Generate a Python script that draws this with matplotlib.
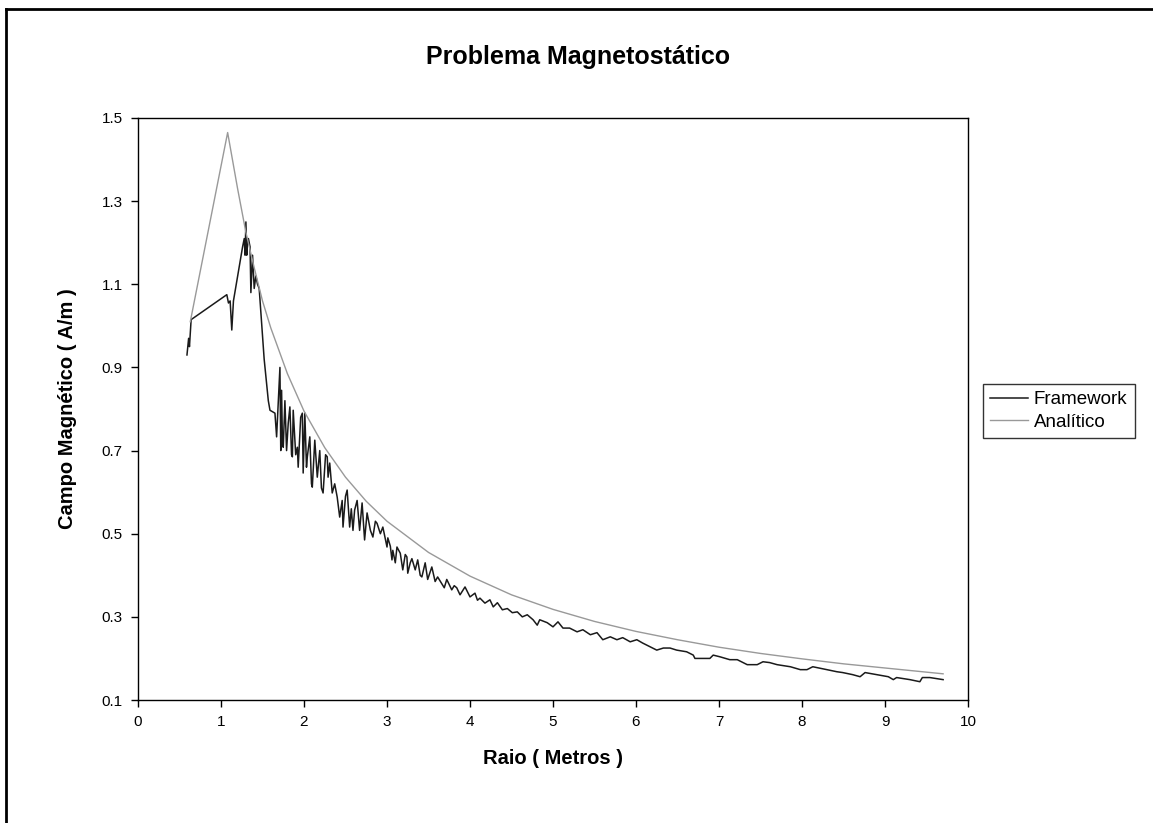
import matplotlib
matplotlib.use("Agg")
import matplotlib.pyplot as plt
from matplotlib.lines import Line2D

plt.rcParams['font.family'] = ['Liberation Sans', 'DejaVu Sans']

# analitico
r_ana = [0.63, 1.08, 1.2, 1.3, 1.4, 1.5, 1.6, 1.8, 2.0, 2.25, 2.5, 2.75, 3.0, 3.5, 4.0, 4.5,
         5.0, 5.5, 6.0, 6.5, 7.0, 7.5, 8.0, 8.5, 9.0, 9.5, 9.7]
h_ana = [1.01, 1.465, 1.33, 1.225, 1.14, 1.06, 0.995, 0.885, 0.795, 0.707, 0.636, 0.578, 0.53,
         0.455, 0.398, 0.353, 0.318, 0.289, 0.265, 0.245, 0.227, 0.212, 0.199, 0.187, 0.177,
         0.167, 0.163]

# framework
r_fw = [0.59, 0.61, 0.62, 0.64, 1.07, 1.09, 1.11, 1.13, 1.15, 1.26, 1.28, 1.29, 1.30, 1.31,
        1.32, 1.33, 1.35, 1.36, 1.38, 1.40, 1.42, 1.44, 1.46, 1.52, 1.57, 1.59, 1.65, 1.67,
        1.71, 1.72, 1.73, 1.74, 1.75, 1.77, 1.79, 1.81, 1.83, 1.85, 1.86, 1.87, 1.90, 1.92,
        1.93, 1.96, 1.98, 1.99, 2.01, 2.03, 2.04, 2.07, 2.09, 2.10, 2.13, 2.16, 2.19, 2.21,
        2.23, 2.26, 2.28, 2.29, 2.31, 2.34, 2.37, 2.40, 2.43, 2.46, 2.47, 2.50, 2.52, 2.55,
        2.57, 2.59, 2.61, 2.64, 2.67, 2.70, 2.73, 2.76, 2.80, 2.83, 2.86, 2.88, 2.92, 2.95,
        3.00, 3.01, 3.04, 3.06, 3.07, 3.10, 3.12, 3.16, 3.19, 3.22, 3.24, 3.25, 3.28, 3.30,
        3.34, 3.37, 3.40, 3.42, 3.46, 3.49, 3.54, 3.58, 3.61, 3.66, 3.69, 3.72, 3.78, 3.81,
        3.84, 3.88, 3.94, 3.97, 4.00, 4.06, 4.09, 4.12, 4.18, 4.24, 4.28, 4.33, 4.39, 4.45,
        4.51, 4.57, 4.63, 4.69, 4.76, 4.81, 4.84, 4.93, 5.00, 5.06, 5.12, 5.20, 5.29, 5.36,
        5.45, 5.53, 5.60, 5.69, 5.77, 5.84, 5.93, 6.01, 6.08, 6.17, 6.25, 6.33, 6.41, 6.49,
        6.61, 6.69, 6.71, 6.89, 6.93, 7.01, 7.13, 7.22, 7.34, 7.46, 7.53, 7.61, 7.70, 7.86,
        7.98, 8.06, 8.13, 8.18, 8.30, 8.42, 8.49, 8.61, 8.70, 8.76, 8.90, 9.04, 9.10, 9.14,
        9.30, 9.42, 9.45, 9.54, 9.70]
h_fw = [0.93, 0.97, 0.95, 1.015, 1.075, 1.055, 1.06, 0.99, 1.06, 1.19, 1.21, 1.17, 1.25, 1.17,
        1.20, 1.21, 1.19, 1.08, 1.17, 1.09, 1.12, 1.10, 1.09, 0.92, 0.82, 0.797, 0.79, 0.733,
        0.90, 0.70, 0.845, 0.72, 0.708, 0.82, 0.70, 0.766, 0.805, 0.69, 0.685, 0.797, 0.69,
        0.708, 0.66, 0.78, 0.79, 0.646, 0.79, 0.66, 0.685, 0.733, 0.62, 0.612, 0.725, 0.636,
        0.70, 0.61, 0.598, 0.69, 0.685, 0.636, 0.67, 0.598, 0.62, 0.588, 0.54, 0.58, 0.516,
        0.59, 0.605, 0.516, 0.56, 0.508, 0.557, 0.58, 0.508, 0.574, 0.485, 0.55, 0.508, 0.492,
        0.53, 0.525, 0.50, 0.516, 0.468, 0.49, 0.47, 0.437, 0.46, 0.43, 0.468, 0.453, 0.413,
        0.45, 0.444, 0.405, 0.43, 0.44, 0.413, 0.437, 0.40, 0.396, 0.43, 0.39, 0.42, 0.385,
        0.396, 0.38, 0.37, 0.39, 0.365, 0.375, 0.37, 0.353, 0.372, 0.36, 0.348, 0.357, 0.34,
        0.345, 0.333, 0.341, 0.324, 0.334, 0.317, 0.32, 0.31, 0.312, 0.30, 0.305, 0.293, 0.28,
        0.293, 0.286, 0.276, 0.288, 0.273, 0.273, 0.264, 0.269, 0.257, 0.262, 0.245, 0.252,
        0.245, 0.25, 0.24, 0.245, 0.237, 0.228, 0.22, 0.225, 0.225, 0.22, 0.216, 0.208, 0.20,
        0.20, 0.208, 0.204, 0.197, 0.197, 0.185, 0.185, 0.192, 0.19, 0.185, 0.18, 0.173, 0.173,
        0.18, 0.178, 0.173, 0.168, 0.166, 0.161, 0.156, 0.166, 0.161, 0.156, 0.149, 0.154,
        0.149, 0.144, 0.154, 0.154, 0.149]

fig = plt.figure(figsize=(11.53, 8.23), dpi=100)
ax = fig.add_axes([138/1153, 1 - 700/823, 830/1153, 582/823])

ax.plot(r_fw, h_fw, color='#1a1a1a', lw=1.1, label='Framework')
ax.plot(r_ana, h_ana, color='#999999', lw=1.0, label='Analítico')

ax.set_xlim(0, 10)
ax.set_ylim(0.1, 1.5)
ax.set_xticks(range(0, 11))
ax.set_yticks([0.1, 0.3, 0.5, 0.7, 0.9, 1.1, 1.3, 1.5])
ax.set_yticklabels(['0.1', '0.3', '0.5', '0.7', '0.9', '1.1', '1.3', '1.5'])
ax.tick_params(direction='out', length=5, width=1, labelsize=11, color='black', pad=6)
for s in ax.spines.values():
    s.set_linewidth(1.0)
    s.set_color('black')

ax.set_xlabel('Raio ( Metros )', fontsize=14.5, fontweight='bold', labelpad=14)
ax.set_ylabel('Campo Magnético ( A/m )', fontsize=14.5, fontweight='bold', labelpad=18)
fig.text(578/1153, 1 - 57/823, 'Problema Magnetostático', fontsize=18, fontweight='bold',
         ha='center', va='center')

leg = ax.legend(loc='center left', bbox_to_anchor=(983/1153, 1 - 411/823),
                bbox_transform=fig.transFigure, frameon=True, fancybox=False,
                fontsize=13.5, handlelength=2.0, borderpad=0.4, labelspacing=0.3,
                handletextpad=0.3, borderaxespad=0)
leg.get_frame().set_edgecolor('black')
leg.get_frame().set_linewidth(1.0)

# moldura externa
fig.add_artist(Line2D([6/1153, 6/1153], [0, 1 - 9/823], color='black', lw=2,
                      transform=fig.transFigure))
fig.add_artist(Line2D([6/1153, 1], [1 - 9/823, 1 - 9/823], color='black', lw=2,
                      transform=fig.transFigure))

fig.savefig('out.png', dpi=100)
